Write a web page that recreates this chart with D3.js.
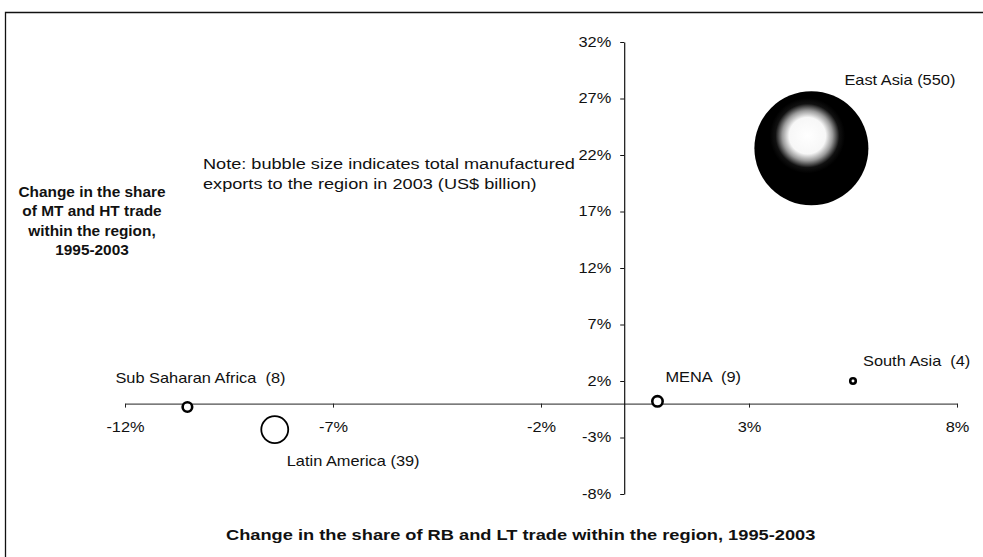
<!DOCTYPE html>
<html>
<head>
<meta charset="utf-8">
<script src="https://cdnjs.cloudflare.com/ajax/libs/d3/7.8.5/d3.min.js"></script>
<style>
  body { margin: 0; background: #fff; }
  text { font-family: "Liberation Sans", Arial, sans-serif; fill: #111; }
</style>
</head>
<body>
<div id="chart"></div>
<script>
// regions and their values
var regions = ["East Asia", "South Asia", "MENA", "Sub Saharan Africa", "Latin America"];
var regionLabels = ["East Asia (550)", "South Asia  (4)", "MENA  (9)", "Sub Saharan Africa  (8)", "Latin America (39)"];
var shareRBLT = [4.5, 5.5, 0.8, -10.5, -8.4];   // x: change in share of RB and LT trade (%)
var shareMTHT = [22.6, 2.0, 0.2, -0.3, -2.3];   // y: change in share of MT and HT trade (%)
var exports2003 = [550, 4, 9, 8, 39];           // bubble size, US$ billion
var xTicks = [-12, -7, -2, 3, 8];
var yTicks = [-8, -3, 2, 7, 12, 17, 22, 27, 32];

// label placement next to each bubble (layout only)
var labelOffsets = [[33, -63], [10, -15], [8, -19], [-72, -24], [12, 36]];

var width = 983, height = 557;
var SX = 1.17; // the scanned text is a bit wider than Arial

var svg = d3.select("#chart")
  .append("svg")
  .attr("width", width)
  .attr("height", height);

svg.append("rect")
  .attr("width", width)
  .attr("height", height)
  .attr("fill", "#fff");

// frame of the figure (cut on the right and bottom)
svg.append("path")
  .attr("d", "M5.5,557 V12.5 H983")
  .attr("fill", "none")
  .attr("stroke", "#111")
  .attr("stroke-width", 1.3);

var x = d3.scaleLinear().domain([-12, 8]).range([125, 957]);
var y = d3.scaleLinear().domain([-8, 32]).range([494, 42]);
var size = d3.scaleSqrt().domain([0, 550]).range([0, 57]);

function putText(g, px, py, str, fontSize, anchor, bold, sx) {
  return g.append("text")
    .attr("transform", "translate(" + px + "," + py + ") scale(" + (sx || SX) + ",1)")
    .attr("text-anchor", anchor || "start")
    .style("font-size", fontSize + "px")
    .style("font-weight", bold ? "bold" : "normal")
    .style("white-space", "pre")
    .text(str);
}

// stretch a text so it spans a given width
function fitWidth(t, px, py, w) {
  var len = t.node().getComputedTextLength();
  t.attr("transform", "translate(" + px + "," + py + ") scale(" + (w / len) + ",1)");
}

// x axis through y = 0
var xAxis = svg.append("g")
  .attr("transform", "translate(0," + y(0) + ")")
  .call(d3.axisBottom(x)
    .tickValues(xTicks)
    .tickSize(4)
    .tickSizeOuter(0)
    .tickPadding(14)
    .tickFormat(function(d) { return d + "%"; }));

xAxis.select(".domain").attr("stroke", "#222");
xAxis.selectAll(".tick line").attr("stroke", "#222");
xAxis.selectAll(".tick text")
  .style("font-size", "14px")
  .style("font-family", "'Liberation Sans', Arial, sans-serif")
  .attr("fill", "#111")
  .attr("transform", "scale(" + SX + ",1)");

// y axis through x = 0
var yAxis = svg.append("g")
  .attr("transform", "translate(" + x(0) + ",0)")
  .call(d3.axisLeft(y)
    .tickValues(yTicks)
    .tickSize(4)
    .tickSizeOuter(0)
    .tickPadding(9)
    .tickFormat(function(d) { return d + "%"; }));

yAxis.select(".domain").attr("stroke", "#111").attr("stroke-width", 1.2);
yAxis.selectAll(".tick line").attr("stroke", "#111");
yAxis.selectAll(".tick text")
  .style("font-size", "14px")
  .style("font-family", "'Liberation Sans', Arial, sans-serif")
  .attr("fill", "#111")
  .attr("x", -13 / SX)
  .attr("transform", "scale(" + SX + ",1)");

// shaded look of the big bubble
var grad = svg.append("defs")
  .append("radialGradient")
  .attr("id", "eastAsiaShade")
  .attr("cx", 0.465).attr("cy", 0.39)
  .attr("fx", 0.465).attr("fy", 0.39)
  .attr("r", 0.5);
grad.append("stop").attr("offset", "0%").attr("stop-color", "#fff");
grad.append("stop").attr("offset", "32%").attr("stop-color", "#f7f7f7");
grad.append("stop").attr("offset", "44%").attr("stop-color", "#9a9a9a");
grad.append("stop").attr("offset", "56%").attr("stop-color", "#111");
grad.append("stop").attr("offset", "66%").attr("stop-color", "#000");
grad.append("stop").attr("offset", "100%").attr("stop-color", "#000");

// bubbles
var bubbleData = regions.map(function(name, i) {
  return { name: name, label: regionLabels[i], x: shareRBLT[i], y: shareMTHT[i], value: exports2003[i], off: labelOffsets[i] };
});

var bubbles = svg.append("g").attr("class", "bubbles");

bubbleData.forEach(function(d) {
  var r = size(d.value);
  if (d.value > 100) {
    bubbles.append("circle")
      .attr("cx", x(d.x))
      .attr("cy", y(d.y))
      .attr("r", r)
      .attr("fill", "url(#eastAsiaShade)");
  } else {
    var sw = r < 10 ? 2.6 : 1.8;
    bubbles.append("circle")
      .attr("cx", x(d.x))
      .attr("cy", y(d.y))
      .attr("r", Math.max(r - sw / 2 - 0.8, 1.5))
      .attr("fill", "#fff")
      .attr("stroke", "#000")
      .attr("stroke-width", sw);
  }
  putText(svg, x(d.x) + d.off[0], y(d.y) + d.off[1], d.label, 14);
});

// note
var note1 = putText(svg, 203, 169, "Note: bubble size indicates total manufactured", 15.5, "start", false, 1.2);
fitWidth(note1, 203, 169, 372);
var note2 = putText(svg, 203, 189, "exports to the region in 2003 (US$ billion)", 15.5, "start", false, 1.2);
fitWidth(note2, 203, 189, 372 * note2.node().getComputedTextLength() / note1.node().getComputedTextLength());

// y axis title
var yTitle = ["Change in the share", "of MT and HT trade", "within the region,", "1995-2003"];
yTitle.forEach(function(line, i) {
  putText(svg, 92, 197 + i * 19.3, line, 14, "middle", true, 1.1);
});

// x axis title
var xTitle = putText(svg, 226, 540, "Change in the share of RB and LT trade within the region, 1995-2003", 15, "start", true, 1);
fitWidth(xTitle, 226, 540, 590);
</script>
</body>
</html>
